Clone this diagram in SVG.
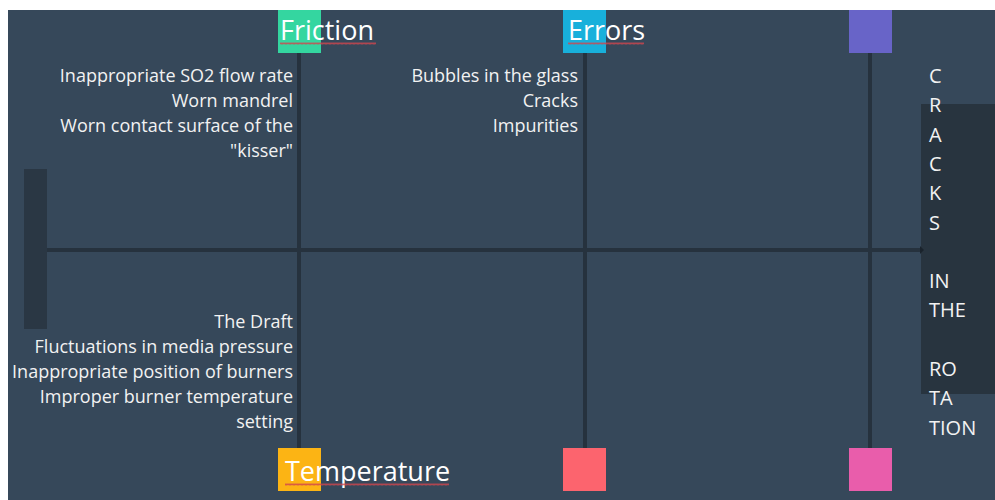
<svg xmlns="http://www.w3.org/2000/svg" width="995" height="500" viewBox="0 0 995 500">
<style>
  .bg{fill:#36485a}
  .line{stroke:#26323e;stroke-width:4;fill:none}
  .title{font-family:"Open Sans","Noto Sans",sans-serif;font-size:27px;fill:#ffffff}
  .item{font-family:"Open Sans","Noto Sans",sans-serif;font-size:18px;fill:#f2f2f2;text-anchor:end}
  .effect{font-family:"Open Sans","Noto Sans",sans-serif;font-size:20px;fill:#f2f2f2}
  .wavy{fill:url(#wave)}
</style>
<defs>
  <pattern id="wave" x="0" y="0" width="4" height="3" patternUnits="userSpaceOnUse">
    <path d="M0,2.5 L1,0.5 L2,2.5 L3,0.5 L4,2.5" stroke="#d0454c" stroke-width="0.8" fill="none"/>
  </pattern>
  <marker id="arrow" markerWidth="4" markerHeight="8" refX="0" refY="4" orient="auto" markerUnits="userSpaceOnUse">
    <path d="M0,0 L4,4 L0,8 Z" fill="#1a232c"/>
  </marker>
</defs>
<rect x="0" y="0" width="995" height="500" fill="#ffffff"/>
<rect class="bg" x="8" y="10" width="987" height="490"/>
<rect x="921" y="104" width="74" height="290" fill="#28343f"/>
<rect id="tail" x="24" y="169" width="23" height="160" fill="#2a3744"/>

<g id="connectors">
  <line class="line" x1="47" y1="250" x2="920" y2="250" marker-end="url(#arrow)"/>
  <line class="line" x1="299" y1="53" x2="299" y2="448"/>
  <line class="line" x1="585" y1="53" x2="585" y2="448"/>
  <line class="line" x1="870" y1="53" x2="870" y2="448"/>
</g>

<g id="friction">
  <rect x="278" y="10" width="43" height="43" fill="#34d6a0"/>
  <text class="title" x="280" y="40">Friction</text>
  <rect class="wavy" x="280" y="42" width="96" height="3"/>
  <text class="item" x="293" y="82">Inappropriate SO2 flow rate</text>
  <text class="item" x="293" y="107">Worn mandrel</text>
  <text class="item" x="293" y="132">Worn contact surface of the</text>
  <text class="item" x="293" y="157">"kisser"</text>
</g>

<g id="errors">
  <rect x="563" y="10" width="43" height="43" fill="#18b0db"/>
  <text class="title" x="568" y="40">Errors</text>
  <rect class="wavy" x="568" y="42" width="76" height="3"/>
  <text class="item" x="578" y="82">Bubbles in the glass</text>
  <text class="item" x="578" y="107">Cracks</text>
  <text class="item" x="578" y="132">Impurities</text>
</g>

<g id="purple-node">
  <rect x="849" y="10" width="43" height="43" fill="#6864c8"/>
</g>

<g id="temperature">
  <rect x="278" y="448" width="43" height="43" fill="#fcb414"/>
  <text class="item" x="293" y="328">The Draft</text>
  <text class="item" x="293" y="353">Fluctuations in media pressure</text>
  <text class="item" x="293" y="378">Inappropriate position of burners</text>
  <text class="item" x="293" y="403">Improper burner temperature</text>
  <text class="item" x="293" y="428">setting</text>
  <text class="title" x="285" y="481">Temperature</text>
  <rect class="wavy" x="285" y="483" width="164" height="3"/>
</g>

<g id="red-node">
  <rect x="563" y="448" width="43" height="43" fill="#fc646e"/>
</g>

<g id="pink-node">
  <rect x="849" y="448" width="43" height="43" fill="#e95dab"/>
</g>

<g id="effect">
  <text class="effect" x="929" y="83">C</text>
  <text class="effect" x="929" y="112.3">R</text>
  <text class="effect" x="929" y="141.6">A</text>
  <text class="effect" x="929" y="170.9">C</text>
  <text class="effect" x="929" y="200.2">K</text>
  <text class="effect" x="929" y="229.5">S</text>
  <text class="effect" x="929" y="288.1">IN</text>
  <text class="effect" x="929" y="317.4">THE</text>
  <text class="effect" x="929" y="376">RO</text>
  <text class="effect" x="929" y="405.3">TA</text>
  <text class="effect" x="929" y="434.6">TION</text>
</g>
</svg>
